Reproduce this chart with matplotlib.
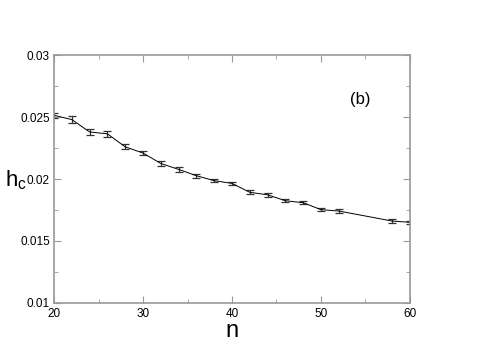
import matplotlib
matplotlib.use("Agg")
import matplotlib.pyplot as plt
from matplotlib.ticker import MultipleLocator, FuncFormatter

n_vals = [20, 22, 24, 26, 28, 30, 32, 34, 36, 38, 40, 42, 44, 46, 48, 50, 52, 58, 60]
hc_vals = [0.02515, 0.0248, 0.0238, 0.02365, 0.0226, 0.0221, 0.02126, 0.02078, 0.02027,
           0.01987, 0.01965, 0.01893, 0.01873, 0.01825, 0.01809, 0.01753, 0.01742,
           0.01661, 0.01651]
hc_err = [0.00022, 0.00025, 0.00022, 0.00022, 0.0002, 0.00018, 0.0002, 0.00018, 0.00015,
          0.00013, 0.00015, 0.00016, 0.00017, 0.00014, 0.00014, 0.00014, 0.00014,
          0.00014, 0.00014]

plt.rcParams['font.family'] = ['Liberation Sans', 'DejaVu Sans']
fig = plt.figure(figsize=(4.91, 3.47), dpi=100)
ax = fig.add_axes([0.110, 0.127, 0.725, 0.714])
ax.errorbar(n_vals, hc_vals, yerr=hc_err, color='black', lw=0.7, elinewidth=0.9,
            capsize=3, capthick=0.9, ecolor='#333333')
ax.set_xlim(20, 60)
ax.set_ylim(0.01, 0.03)
ax.xaxis.set_major_locator(MultipleLocator(10))
ax.xaxis.set_minor_locator(MultipleLocator(5))
ax.yaxis.set_major_locator(MultipleLocator(0.005))
ax.yaxis.set_minor_locator(MultipleLocator(0.0025))
ax.yaxis.set_major_formatter(FuncFormatter(lambda v, p: f"{v:g}"))
for s in ax.spines.values():
    s.set_color('#999999')
    s.set_linewidth(1.2)
ax.tick_params(which='both', direction='in', top=True, right=True, colors='#999999',
               labelcolor='black', labelsize=8.5)
ax.tick_params(axis='x', pad=4)
ax.tick_params(axis='y', pad=3)
ax.tick_params(which='major', length=5)
ax.tick_params(which='minor', length=3)
ax.set_xlabel('n', fontsize=17, labelpad=0)
fig.text(0.01, 0.48, r'h$_\mathregular{c}$', fontsize=16, va='center', ha='left')
ax.text(0.86, 0.82, '(b)', transform=ax.transAxes, fontsize=12, ha='center', va='center')
fig.savefig('out.png', dpi=100)
